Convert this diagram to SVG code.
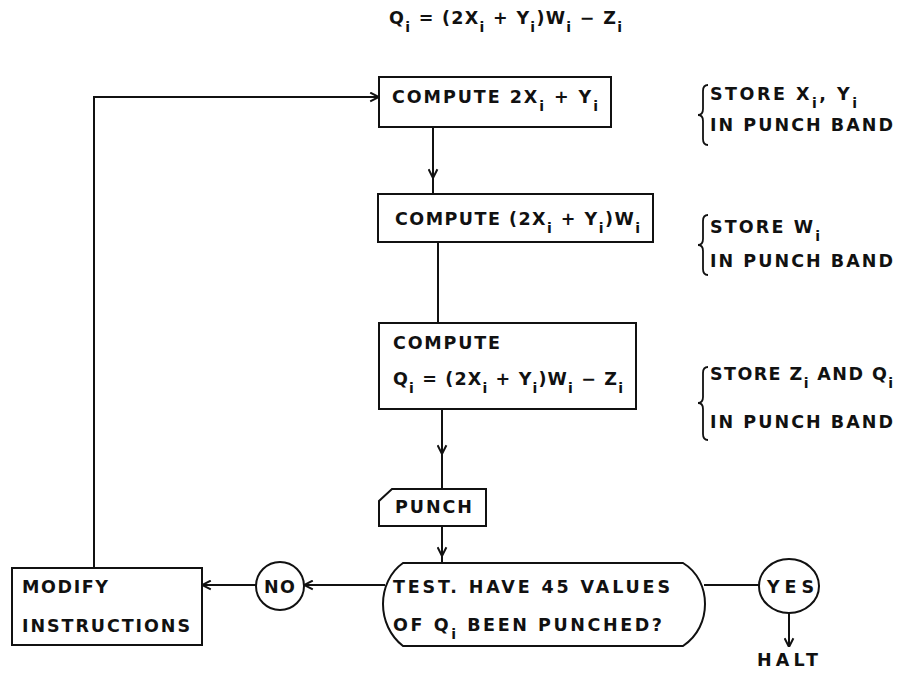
<svg xmlns="http://www.w3.org/2000/svg" width="908" height="673" viewBox="0 0 908 673">
<defs>
<marker id="arr" viewBox="0 0 10 10" refX="10" refY="5" markerWidth="11" markerHeight="11" markerUnits="userSpaceOnUse" orient="auto">
<path d="M2,1 L10,5 L2,9" fill="none" stroke="#111" stroke-width="1.8"/>
</marker>
<style>
.t{font-family:"DejaVu Sans","Liberation Sans",Arial,sans-serif;font-weight:bold;font-size:17.5px;fill:#111;}
.s{font-size:14px;}
.b{fill:#fff;stroke:#111;stroke-width:2;}
.c{fill:none;stroke:#111;stroke-width:2;}
.a{fill:none;stroke:#111;stroke-width:2;marker-end:url(#arr);}
.br{fill:none;stroke:#111;stroke-width:1.8;}
</style>
</defs>
<rect width="908" height="673" fill="#fff"/>

<text class="t" x="389" y="24" textLength="233" lengthAdjust="spacing">Q<tspan class="s" dy="8">i</tspan><tspan dy="-8"> = (2X</tspan><tspan class="s" dy="8">i</tspan><tspan dy="-8"> + Y</tspan><tspan class="s" dy="8">i</tspan><tspan dy="-8">)W</tspan><tspan class="s" dy="8">i</tspan><tspan dy="-8"> − Z</tspan><tspan class="s" dy="8">i</tspan></text>

<g id="connectors">
<path class="a" d="M94,568 L94,97 L379,97"/>
<path class="a" d="M433,127 L433,178"/>
<path class="c" d="M433,176 L433,194"/>
<path class="c" d="M438,242 L438,323"/>
<path class="a" d="M442,409 L442,454"/>
<path class="c" d="M442,452 L442,489"/>
<path class="a" d="M442,526 L442,556"/>
<path class="c" d="M442,554 L442,563"/>
<path class="a" d="M385,585 L304,585"/>
<path class="a" d="M256,585 L202,585"/>
<path class="c" d="M704,585 L759,585"/>
<path class="a" d="M789,613 L789,647"/>
</g>

<g id="compute1">
<rect class="b" x="379" y="77" width="232" height="50"/>
<text class="t" x="392" y="103" textLength="206" lengthAdjust="spacing">COMPUTE 2X<tspan class="s" dy="8">i</tspan><tspan dy="-8"> + Y</tspan><tspan class="s" dy="8">i</tspan></text>
</g>

<g id="compute2">
<rect class="b" x="378" y="194" width="275" height="48"/>
<text class="t" x="395" y="225" textLength="245" lengthAdjust="spacing">COMPUTE (2X<tspan class="s" dy="8">i</tspan><tspan dy="-8"> + Y</tspan><tspan class="s" dy="8">i</tspan><tspan dy="-8">)W</tspan><tspan class="s" dy="8">i</tspan></text>
</g>

<g id="compute3">
<rect class="b" x="379" y="323" width="257" height="86"/>
<text class="t" x="393" y="349" textLength="107" lengthAdjust="spacing">COMPUTE</text>
<text class="t" x="393" y="385" textLength="230" lengthAdjust="spacing">Q<tspan class="s" dy="8">i</tspan><tspan dy="-8"> = (2X</tspan><tspan class="s" dy="8">i</tspan><tspan dy="-8"> + Y</tspan><tspan class="s" dy="8">i</tspan><tspan dy="-8">)W</tspan><tspan class="s" dy="8">i</tspan><tspan dy="-8"> − Z</tspan><tspan class="s" dy="8">i</tspan></text>
</g>

<g id="punch">
<path class="b" d="M392,489 L486,489 L486,526 L379,526 L379,501 Z"/>
<text class="t" x="395" y="513" textLength="77" lengthAdjust="spacing">PUNCH</text>
</g>

<g id="test">
<path class="b" d="M403,563 L683,563 C698,572 705,588 705,604 C705,620 698,636 683,646 L403,646 C390,636 383,620 383,604 C383,588 390,572 403,563 Z"/>
<text class="t" x="393" y="593" textLength="277" lengthAdjust="spacing">TEST. HAVE 45 VALUES</text>
<text class="t" x="393" y="631" textLength="269" lengthAdjust="spacing">OF Q<tspan class="s" dy="8">i</tspan><tspan dy="-8"> BEEN PUNCHED?</tspan></text>
</g>

<g id="no">
<circle class="b" cx="280" cy="586" r="24"/>
<text class="t" x="264" y="593" textLength="31" lengthAdjust="spacing">NO</text>
</g>

<g id="yes">
<ellipse class="b" cx="789" cy="586" rx="30" ry="27"/>
<text class="t" x="767" y="593" textLength="47" lengthAdjust="spacing">YES</text>
</g>

<g id="halt">
<text class="t" x="757" y="666" textLength="61" lengthAdjust="spacing">HALT</text>
</g>

<g id="modify">
<rect class="b" x="12" y="568" width="190" height="77"/>
<text class="t" x="22" y="593" textLength="86" lengthAdjust="spacing">MODIFY</text>
<text class="t" x="22" y="632" textLength="168" lengthAdjust="spacing">INSTRUCTIONS</text>
</g>

<g id="note1">
<path class="br" d="M708,85 Q703,85 703,91 L703,109 Q703,115 698,115 Q703,115 703,121 L703,139 Q703,145 708,145"/>
<text class="t" x="710" y="100" textLength="147" lengthAdjust="spacing">STORE X<tspan class="s" dy="8">i</tspan><tspan dy="-8">, Y</tspan><tspan class="s" dy="8">i</tspan></text>
<text class="t" x="710" y="131" textLength="183" lengthAdjust="spacing">IN PUNCH BAND</text>
</g>

<g id="note2">
<path class="br" d="M708,215 Q703,215 703,221 L703,239 Q703,245 698,245 Q703,245 703,251 L703,269 Q703,275 708,275"/>
<text class="t" x="710" y="233" textLength="110" lengthAdjust="spacing">STORE W<tspan class="s" dy="8">i</tspan></text>
<text class="t" x="710" y="267" textLength="183" lengthAdjust="spacing">IN PUNCH BAND</text>
</g>

<g id="note3">
<path class="br" d="M708,367 Q703,367 703,373 L703,397 Q703,403 698,403 Q703,403 703,409 L703,434 Q703,440 708,440"/>
<text class="t" x="710" y="380" textLength="183" lengthAdjust="spacing">STORE Z<tspan class="s" dy="8">i</tspan><tspan dy="-8"> AND Q</tspan><tspan class="s" dy="8">i</tspan></text>
<text class="t" x="710" y="428" textLength="183" lengthAdjust="spacing">IN PUNCH BAND</text>
</g>
</svg>
